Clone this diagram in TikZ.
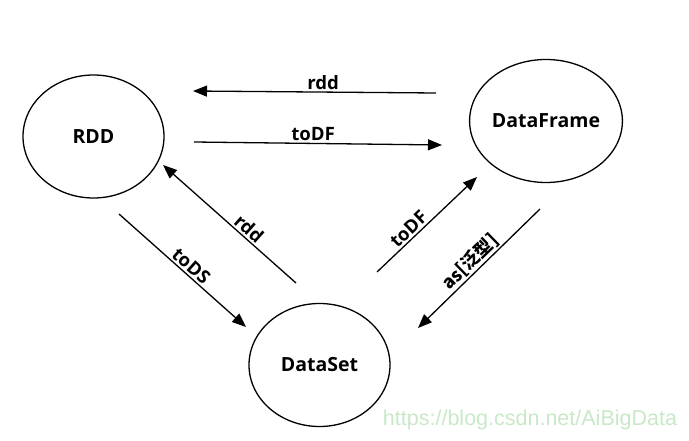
\documentclass[tikz,border=0pt]{standalone}
\usepackage{fontspec}
\setmainfont{Open Sans}
\newfontfamily\cjk{Noto Sans CJK SC}
\newfontfamily\wmfont{Liberation Sans}
\usetikzlibrary{shapes.geometric,arrows.meta}
\definecolor{wmgreen}{RGB}{200,232,200}
\begin{document}
\begin{tikzpicture}[x=1pt,y=-1pt,
  state/.style={draw, ellipse, line width=1.3pt, inner sep=0pt,
    minimum width=141pt, minimum height=123pt,
    font=\bfseries\fontsize{19.5}{22}\selectfont},
  conn/.style={line width=1.3pt, -{Triangle[length=14pt,width=11pt]}},
  lbl/.style={sloped, above, inner sep=2pt, font=\bfseries\fontsize{18.5}{21}\selectfont}]
\useasboundingbox (0,0) rectangle (689,441);
\node[state] (rdd) at (93.5,136.5) {RDD};
\node[state] (df) at (546,121) {DataFrame};
\node[state] (ds) at (319.5,365) {DataSet};
% connector ends
\coordinate (a1) at (436,93);  \coordinate (a2) at (193,91);
\coordinate (b1) at (194,142); \coordinate (b2) at (442,145);
\coordinate (c1) at (296,283); \coordinate (c2) at (163,165);
\coordinate (d1) at (119,214); \coordinate (d2) at (246,327);
\coordinate (e1) at (377,272); \coordinate (e2) at (477,177);
\coordinate (f1) at (540,209); \coordinate (f2) at (418,328);
\draw[conn] (a1) -- node[lbl, pos=0.465] {rdd} (a2);
\draw[conn] (b1) -- node[lbl, pos=0.48] {toDF} (b2);
\draw[conn] (c1) -- node[lbl, pos=0.4] {rdd} (c2);
\draw[conn] (d1) -- node[lbl, pos=0.52] {toDS} (d2);
\draw[conn] (e1) -- node[lbl, pos=0.38] {toDF} (e2);
\draw[conn] (f1) -- node[lbl, pos=0.51, font=\cjk\bfseries\fontsize{18}{21}\selectfont, inner sep=1pt] {as[泛型]} (f2);
\node[font=\wmfont\fontsize{21.5}{24}\selectfont, text=wmgreen, inner sep=0pt] (wm) at (530,420) {https://blog.csdn.net/AiBigData};
\end{tikzpicture}
\end{document}
